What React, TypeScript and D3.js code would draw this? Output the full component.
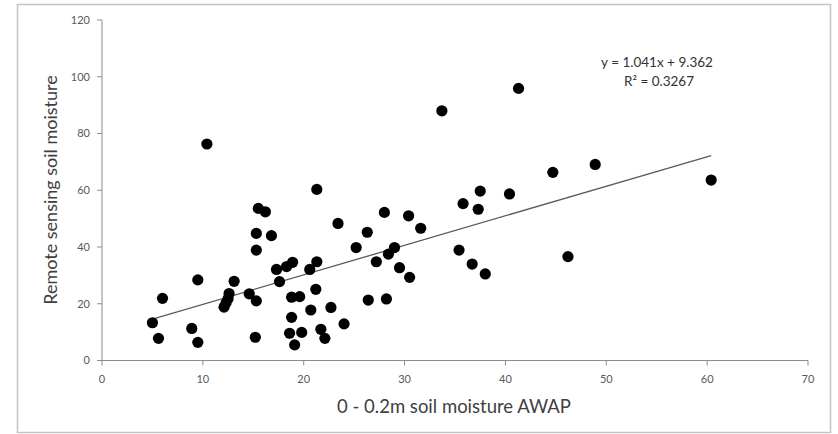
import React, { useEffect } from "react";
import * as d3 from "d3";

const awap: number[] = [
  5.0, 5.6, 6.0, 8.9, 9.5, 9.5, 12.1, 12.3, 12.5, 12.6,
  13.1, 14.6, 15.3, 15.2, 15.3, 15.3, 15.5, 16.2, 16.8, 17.3,
  17.6, 18.3, 18.9, 18.8, 19.6, 18.8, 18.6, 19.8, 19.1, 20.6,
  21.3, 21.2, 20.7, 21.7, 22.1, 22.7, 23.4, 24.0, 25.2, 26.3,
  26.4, 27.2, 28.0, 28.2, 28.4, 29.0, 29.5, 30.4, 30.5, 31.6,
  10.4, 21.3, 33.7, 41.3, 44.7, 48.9, 60.4, 37.5, 35.8, 37.3,
  40.4, 35.4, 36.7, 38.0, 46.2,
];
const remote: number[] = [
  13.3, 7.8, 21.9, 11.3, 28.4, 6.4, 18.8, 20.3, 21.8, 23.6,
  27.9, 23.5, 21.0, 8.2, 38.9, 44.8, 53.6, 52.4, 44.0, 32.1,
  27.8, 33.1, 34.6, 22.3, 22.5, 15.2, 9.6, 9.9, 5.5, 32.1,
  34.8, 25.1, 17.8, 11.0, 7.8, 18.7, 48.3, 12.9, 39.8, 45.2,
  21.3, 34.8, 52.2, 21.7, 37.5, 39.8, 32.7, 51.0, 29.3, 46.6,
  76.3, 60.3, 88.0, 95.9, 66.3, 69.1, 63.6, 59.7, 55.3, 53.3,
  58.7, 38.9, 34.0, 30.5, 36.6,
];
const xTicks: number[] = [0, 10, 20, 30, 40, 50, 60, 70];
const yTicks: number[] = [0, 20, 40, 60, 80, 100, 120];
const slope = 1.041;
const intercept = 9.362;
const equationLabel = "y = 1.041x + 9.362";
const r2Label = "R² = 0.3267";
const xTitle = "0 - 0.2m soil moisture AWAP";
const yTitle = "Remote sensing soil moisture";

export default function App() {
  useEffect(() => {
    document.body.style.margin = "0";
  }, []);
  const W = 838;
  const H = 434;
  const x = d3.scaleLinear().domain([0, 70]).range([102, 808]);
  const y = d3.scaleLinear().domain([0, 120]).range([360.5, 20]);
  const font = "Lato, 'Open Sans', sans-serif";
  const axisColor = "#8c8c8c";
  const tickText = "#595959";
  const xmin = d3.min(awap) as number;
  const xmax = d3.max(awap) as number;
  const pts = awap.map((v, i) => ({ x: v, y: remote[i] }));
  return (
    <svg width={W} height={H} style={{ display: "block" }} fontFamily={font}>
      <rect x={0} y={0} width={W} height={H} fill="#ffffff" />
      <rect x={17.5} y={4.5} width={813} height={428} fill="none" stroke="#c4c4c4" strokeWidth={1.5} />
      <line x1={x(0)} x2={x(0)} y1={y(120)} y2={y(0)} stroke={axisColor} strokeWidth={1} />
      <line x1={x(0)} x2={x(70)} y1={y(0)} y2={y(0)} stroke={axisColor} strokeWidth={1} />
      {yTicks.map((t) => (
        <g key={"y" + t}>
          <line x1={x(0) - 5} x2={x(0)} y1={y(t)} y2={y(t)} stroke={axisColor} />
          <text x={x(0) - 12} y={y(t)} dy="0.35em" textAnchor="end" fontSize={11} fill={tickText}>
            {t}
          </text>
        </g>
      ))}
      {xTicks.map((t) => (
        <g key={"x" + t}>
          <line x1={x(t)} x2={x(t)} y1={y(0)} y2={y(0) + 5} stroke={axisColor} />
          <text x={x(t)} y={y(0) + 19} dy="0.35em" textAnchor="middle" fontSize={11} fill={tickText}>
            {t}
          </text>
        </g>
      ))}
      <line
        x1={x(xmin)}
        y1={y(slope * xmin + intercept)}
        x2={x(xmax)}
        y2={y(slope * xmax + intercept)}
        stroke="#5a5a5a"
        strokeWidth={1.3}
      />
      {pts.map((p, i) => (
        <circle key={i} cx={x(p.x)} cy={y(p.y)} r={5.6} fill="#000" />
      ))}
      <text x={657} y={62} dy="0.35em" textAnchor="middle" fontSize={13.5} fill="#333">
        {equationLabel}
      </text>
      <text x={659} y={81} dy="0.35em" textAnchor="middle" fontSize={13.5} fill="#333">
        {r2Label}
      </text>
      <text x={454} y={407} dy="0.35em" textAnchor="middle" fontSize={18.5} fill="#404040">
        {xTitle}
      </text>
      <text
        transform={`translate(51,190) rotate(-90)`}
        dy="0.35em"
        textAnchor="middle"
        fontSize={18}
        fill="#404040"
      >
        {yTitle}
      </text>
    </svg>
  );
}
